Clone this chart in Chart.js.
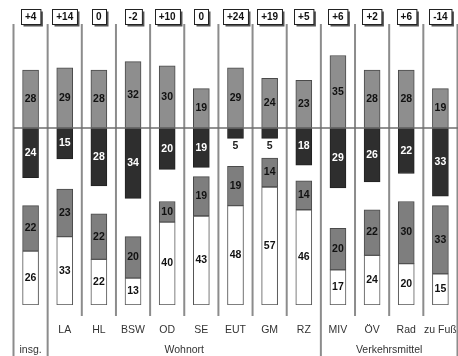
<!DOCTYPE html>
<html lang="de">
<head>
  <meta charset="UTF-8">
  <title>Veränderung nach Wohnort und Verkehrsmittel</title>
  <!-- Chart.js CDN -->
  <script src="https://cdn.jsdelivr.net/npm/chart.js"></script>
  <style>
    html, body { margin: 0; padding: 0; background: #fff; overflow: hidden; }
    canvas { display: block; }
  </style>
</head>
<body>
  <!-- etwas größer als das Fenster, die letzte Spalte ist angeschnitten -->
  <canvas id="chart" width="472" height="375"></canvas>

  <script>
    // Daten
    const categories = ['insg.', 'LA', 'HL', 'BSW', 'OD', 'SE', 'EUT', 'GM', 'RZ', 'MIV', 'ÖV', 'Rad', 'zu Fuß'];
    const saldo = ['+4', '+14', '0', '-2', '+10', '0', '+24', '+19', '+5', '+6', '+2', '+6', '-14'];
    const obenGrau = [28, 29, 28, 32, 30, 19, 29, 24, 23, 35, 28, 28, 19];
    const dunkel = [24, 15, 28, 34, 20, 19, 5, 5, 18, 29, 26, 22, 33];
    const untenGrau = [22, 23, 22, 20, 10, 19, 19, 14, 14, 20, 22, 30, 33];
    const weiss = [26, 33, 22, 13, 40, 43, 48, 57, 46, 17, 24, 20, 15];
    const gruppen = [
      { label: 'Wohnort', from: 1, to: 8 },
      { label: 'Verkehrsmittel', from: 9, to: 12 }
    ];

    // untere Stapel beginnen auf dieser Höhe
    const BASIS = -85.5;

    const FONT = 'Arial, "Liberation Sans", sans-serif';

    // Trennlinien, Saldo-Kästchen, Werte und Gruppennamen
    const deko = {
      id: 'deko',
      beforeDatasetsDraw(chart) {
        const ctx = chart.ctx;
        const x = chart.scales.x;
        const w = (x.right - x.left) / categories.length;
        ctx.save();
        ctx.strokeStyle = '#8c8c8c';
        ctx.lineWidth = 2;
        for (let k = 0; k <= categories.length; k++) {
          const px = x.left + k * w;
          const voll = k === 0 || gruppen.some(g => g.from === k || g.to + 1 === k);
          ctx.beginPath();
          ctx.moveTo(px, 24);
          ctx.lineTo(px, voll ? chart.height : 316);
          ctx.stroke();
        }
        ctx.restore();
      },
      afterDatasetsDraw(chart) {
        const ctx = chart.ctx;
        const x = chart.scales.x;
        const y = chart.scales.y;
        const w = (x.right - x.left) / categories.length;
        ctx.save();

        // Nulllinie
        const y0 = y.getPixelForValue(0);
        ctx.strokeStyle = '#6e6e6e';
        ctx.lineWidth = 1.5;
        ctx.beginPath();
        ctx.moveTo(x.left, y0);
        ctx.lineTo(chart.width, y0);
        ctx.stroke();

        // Werte in den Balken
        ctx.font = 'bold 10.5px ' + FONT;
        ctx.textAlign = 'center';
        ctx.textBaseline = 'middle';
        chart.data.datasets.forEach((ds, di) => {
          const meta = chart.getDatasetMeta(di);
          meta.data.forEach((bar, i) => {
            const v = ds.werte[i];
            const top = Math.min(bar.y, bar.base);
            const bot = Math.max(bar.y, bar.base);
            if (bot - top < 14) {
              ctx.fillStyle = '#222';
              ctx.fillText(v, bar.x, bot + 8);
            } else {
              ctx.fillStyle = ds.textFarbe;
              ctx.fillText(v, bar.x, (top + bot) / 2);
            }
          });
        });

        // Saldo-Kästchen oben
        ctx.font = 'bold 10px ' + FONT;
        saldo.forEach((s, i) => {
          const cx = x.getPixelForValue(i);
          const tw = ctx.measureText(s).width;
          const bw = Math.max(tw + 8, 14);
          const bx = Math.round(cx - bw / 2) + 0.5;
          const by = 9.5;
          const bh = 15;
          ctx.fillStyle = '#555';
          ctx.fillRect(bx + 2, by + 2, bw, bh);
          ctx.fillStyle = '#fff';
          ctx.fillRect(bx, by, bw, bh);
          ctx.strokeStyle = '#222';
          ctx.lineWidth = 1;
          ctx.strokeRect(bx, by, bw, bh);
          ctx.fillStyle = '#111';
          ctx.fillText(s, cx, by + bh / 2 + 0.5);
        });

        // Gruppennamen
        ctx.font = '10.5px ' + FONT;
        ctx.fillStyle = '#333';
        gruppen.forEach(g => {
          const cx = x.left + ((g.from + g.to + 1) / 2) * w;
          ctx.fillText(g.label, cx, 350);
        });
        ctx.restore();
      }
    };

    const balken = (label, data, werte, farbe, rand, textFarbe) => ({
      label, data, werte, textFarbe,
      backgroundColor: farbe,
      borderColor: rand,
      borderWidth: 1,
      borderSkipped: false
    });

    new Chart(document.getElementById('chart'), {
      type: 'bar',
      data: {
        labels: categories,
        datasets: [
          balken('oben', obenGrau.map(v => [0, v]), obenGrau, '#8e8e8e', '#4a4a4a', '#111'),
          balken('dunkel', dunkel.map(v => [-v, 0]), dunkel, '#2e2e2e', '#222', '#fff'),
          balken('weiss', weiss.map(v => [BASIS, BASIS + v]), weiss, '#ffffff', '#555', '#111'),
          balken('unten', untenGrau.map((v, i) => [BASIS + weiss[i], BASIS + weiss[i] + v]), untenGrau, '#7e7e7e', '#4a4a4a', '#111')
        ]
      },
      options: {
        responsive: false,
        animation: false,
        layout: { padding: { left: 13.5, right: 6.75, top: 0, bottom: 0 } },
        datasets: { bar: { grouped: false, barThickness: 16 } },
        plugins: {
          legend: { display: false },
          tooltip: { enabled: false }
        },
        scales: {
          x: {
            grid: { display: false, drawTicks: false },
            border: { display: false },
            ticks: {
              autoSkip: false,
              maxRotation: 0,
              padding: 15,
              color: '#333',
              font: { family: FONT, size: 10.5, lineHeight: '20px' },
              callback: (val, i) => i === 0 ? ['', categories[i]] : [categories[i]]
            }
          },
          y: {
            display: false,
            min: BASIS,
            max: 61.8
          }
        }
      },
      plugins: [deko]
    });
  </script>
</body>
</html>
